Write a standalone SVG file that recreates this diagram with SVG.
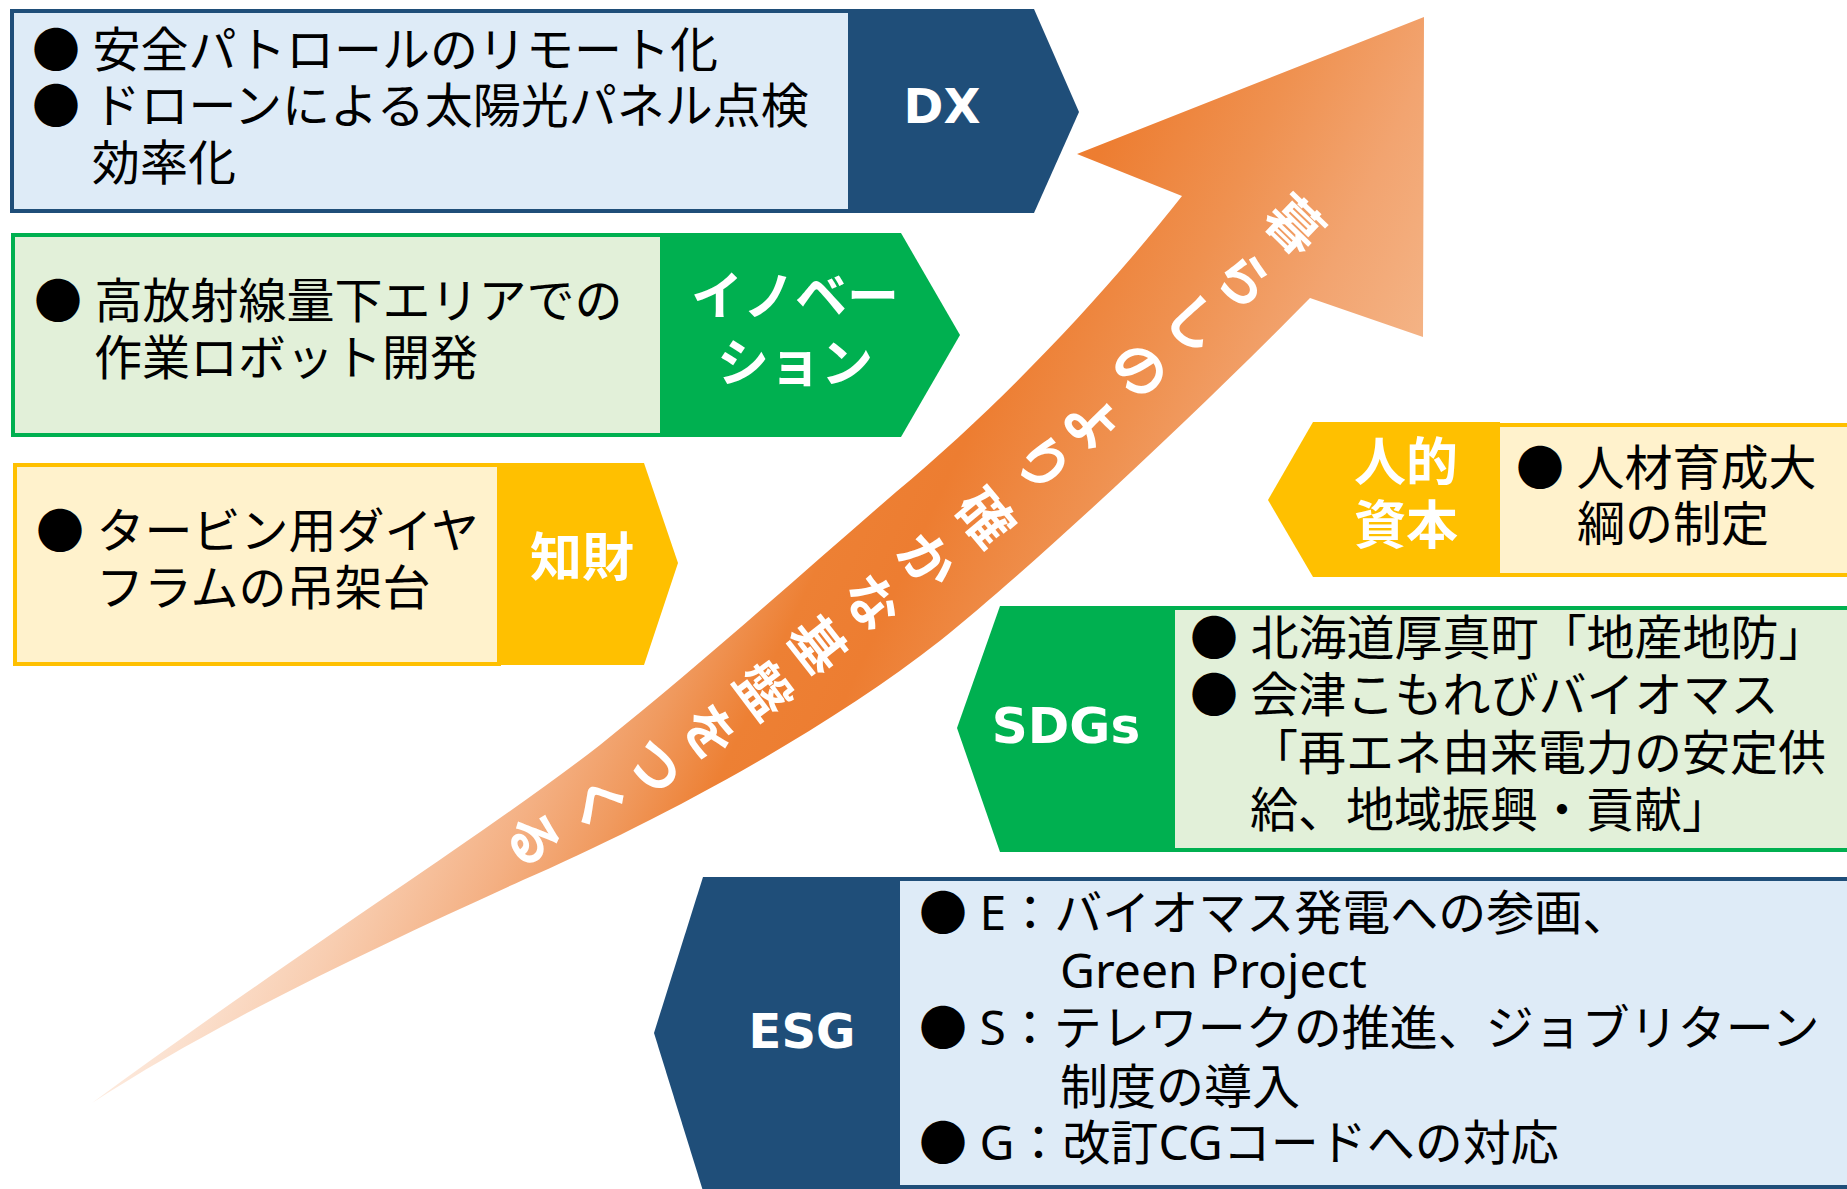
<svg xmlns="http://www.w3.org/2000/svg" width="1847" height="1189" viewBox="0 0 1847 1189">
<defs>
<linearGradient id="arrowGrad" gradientUnits="userSpaceOnUse" x1="92" y1="1103" x2="892" y2="1476">
<stop offset="0" stop-color="#FDEBDF"/>
<stop offset="0.171" stop-color="#F8CDB0"/>
<stop offset="0.307" stop-color="#F4B083"/>
<stop offset="0.398" stop-color="#F09A5F"/>
<stop offset="0.488" stop-color="#ED8034"/>
<stop offset="0.579" stop-color="#ED7D31"/>
<stop offset="0.737" stop-color="#EF9150"/>
<stop offset="0.873" stop-color="#F2A470"/>
<stop offset="1" stop-color="#F4B385"/>
</linearGradient>
<style>
.body{font-family:"Noto Sans","Noto Sans CJK JP",sans-serif;font-size:48px;fill:#000}
.jlbl{font-family:"Noto Sans CJK JP",sans-serif;font-weight:700;font-size:52px;fill:#fff;text-anchor:middle}
.elbl{font-family:"DejaVu Sans",sans-serif;font-weight:700;fill:#fff;text-anchor:middle}
.navy{fill:#1F4E79}
.green{fill:#00B050}
.gold{fill:#FFC000}
.boxBlue{fill:#DEEBF7;stroke:#1F4E79;stroke-width:4}
.boxGreen{fill:#E2F0D9;stroke:#00B050;stroke-width:4}
.boxGold{fill:#FFF2CC;stroke:#FFC000;stroke-width:4}
.at{font-family:"Noto Sans CJK JP",sans-serif;font-weight:700;font-size:55px;fill:#fff;text-anchor:middle;dominant-baseline:central}
</style>
</defs>
<rect width="1847" height="1189" fill="#fff"/>

<g id="connectors">
<g id="growth-arrow">
<path fill="url(#arrowGrad)" d="M1182,196 L1077,154 L1424,17 L1423,337 L1310,298 C1200,410 1040,560 941,640 C820,735 650,825 523,880 C380,945 220,1020 92,1103 C300,950 480,838 600,745 C700,665 800,575 896,492 C1000,405 1100,300 1182,196 Z"/>
<g id="arrow-label">
<text class="at" transform="translate(1297,222) rotate(44)">暮</text>
<text class="at" transform="translate(1247,277) rotate(45)">ら</text>
<text class="at" transform="translate(1197,320) rotate(46)">し</text>
<text class="at" transform="translate(1143,367) rotate(46)">の</text>
<text class="at" transform="translate(1095,420) rotate(47)">よ</text>
<text class="at" transform="translate(1046,462) rotate(48)">り</text>
<text class="at" transform="translate(988,515) rotate(50)">確</text>
<text class="at" transform="translate(930,558) rotate(51)">か</text>
<text class="at" transform="translate(875,600) rotate(52)">な</text>
<text class="at" transform="translate(820,643) rotate(52)">基</text>
<text class="at" transform="translate(767,688) rotate(53)">盤</text>
<text class="at" transform="translate(713,730) rotate(55)">を</text>
<text class="at" transform="translate(658,764) rotate(57)">つ</text>
<text class="at" transform="translate(602,801) rotate(59)">く</text>
<text class="at" transform="translate(537,837) rotate(61)">る</text>
</g>
</g>
</g>

<g id="node-dx">
<rect class="boxBlue" x="12" y="11" width="838" height="200"/>
<path class="navy" d="M848,9 L1034,9 L1079,112 L1034,213 L848,213 Z"/>
<text class="elbl" x="942" y="123" font-size="48">DX</text>
<text class="body" x="32" y="67">● 安全パトロールのリモート化</text>
<text class="body" x="32" y="123">● ドローンによる太陽光パネル点検</text>
<text class="body" x="92" y="180">効率化</text>
</g>

<g id="node-innovation">
<rect class="boxGreen" x="13" y="235" width="650" height="200"/>
<path class="green" d="M660,233 L901,233 L960,335 L901,437 L660,437 Z"/>
<text class="jlbl" x="795" y="315">イノベー</text>
<text class="jlbl" x="795" y="382">ション</text>
<text class="body" x="34" y="318">● 高放射線量下エリアでの</text>
<text class="body" x="94" y="375">作業ロボット開発</text>
</g>

<g id="node-ip">
<rect class="boxGold" x="15" y="465" width="484" height="199"/>
<path class="gold" d="M497,463 L644,463 L678,563 L644,665 L497,665 Z"/>
<text class="jlbl" x="582" y="576">知財</text>
<text class="body" x="36" y="548">● タービン用ダイヤ</text>
<text class="body" x="96" y="605">フラムの吊架台</text>
</g>

<g id="node-human-capital">
<rect class="boxGold" x="1498" y="425" width="400" height="150"/>
<path class="gold" d="M1313,422 L1500,422 L1500,577 L1313,577 L1268,500 Z"/>
<text class="jlbl" x="1406" y="481">人的</text>
<text class="jlbl" x="1406" y="544">資本</text>
<text class="body" x="1516" y="485">● 人材育成大</text>
<text class="body" x="1577" y="541">綱の制定</text>
</g>

<g id="node-sdgs">
<rect class="boxGreen" x="1173" y="608" width="700" height="242"/>
<path class="green" d="M1000,606 L1175,606 L1175,852 L1000,852 L957,728 Z"/>
<text class="elbl" x="1066" y="743" font-size="50">SDGs</text>
<text class="body" x="1190" y="655">● 北海道厚真町「地産地防」</text>
<text class="body" x="1190" y="712">● 会津こもれびバイオマス</text>
<text class="body" x="1250" y="770">「再エネ由来電力の安定供</text>
<text class="body" x="1250" y="827">給、地域振興・貢献」</text>
</g>

<g id="node-esg">
<rect class="boxBlue" x="898" y="879" width="980" height="308"/>
<path class="navy" d="M703,877 L900,877 L900,1191 L703,1191 L654,1033 Z"/>
<text class="elbl" x="802" y="1048" font-size="48">ESG</text>
<text class="body" x="919" y="930">● E：バイオマス発電への参画、</text>
<text class="body" x="1060" y="988">Green Project</text>
<text class="body" x="919" y="1045">● S：テレワークの推進、ジョブリターン</text>
<text class="body" x="1060" y="1104">制度の導入</text>
<text class="body" x="919" y="1160">● G：改訂CGコードへの対応</text>
</g>
</svg>
